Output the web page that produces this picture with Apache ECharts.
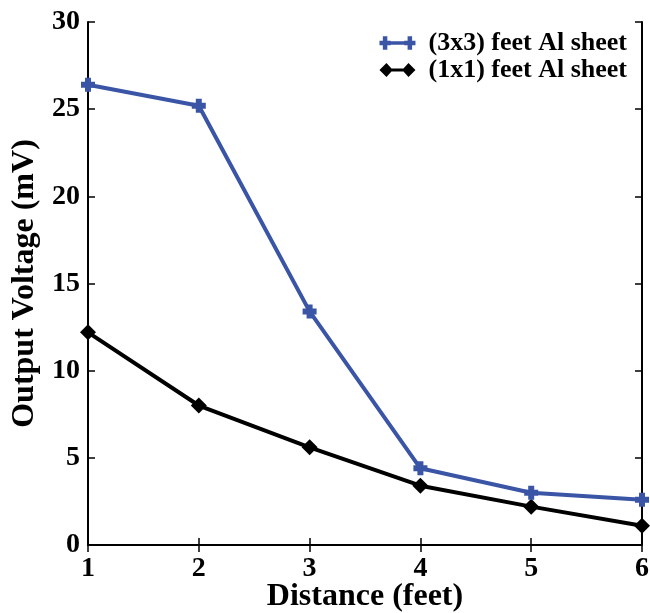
<!DOCTYPE html>
<html>
<head>
<meta charset="utf-8">
<script src="https://cdn.jsdelivr.net/npm/echarts@6/dist/echarts.min.js"></script>
<style>html,body{margin:0;padding:0;background:#fff}#c{width:650px;height:613px}</style>
</head>
<body>
<div id="c"></div>
<script>
var distances = [1, 2, 3, 4, 5, 6];
var sheet3x3 = [26.4, 25.2, 13.4, 4.4, 3.0, 2.6];
var sheet1x1 = [12.2, 8.0, 5.6, 3.4, 2.2, 1.1];
var seriesNames = ['(3x3) feet Al sheet', '(1x1) feet Al sheet'];
var xTicks = [1, 2, 3, 4, 5, 6];
var yTicks = [0, 5, 10, 15, 20, 25, 30];

var BLUE = '#3a55a6';
var FONT = '"Liberation Serif", "Times New Roman", serif';
var plusPath = 'path://M4,0H10V4H14V10H10V14H4V10H0V4H4Z';
var legendBlue = 'path://M5,1H9V5H12V9H9V13H5V9H2V5H5Z M27,1H31V5H34V9H31V13H27V9H24V5H27Z M11,5.5H25V8.5H11Z';
var legendBlack = 'path://M0,7L7,0L12,5.5H24L29,0L36,7L29,14L24,8.5H12L7,14Z';

function pairs(vals) { return distances.map(function (d, i) { return [d, vals[i]]; }); }

var chart = echarts.init(document.getElementById('c'), null, {renderer: 'canvas'});
var axisText = {color: '#000', fontFamily: FONT, fontWeight: 'bold', fontSize: 28};
var line = {show: true, lineStyle: {color: '#000', width: 2}};
var tick = {show: true, inside: true, length: 7, lineStyle: {color: '#000', width: 1.5}};
chart.setOption({
  animation: false,
  backgroundColor: '#fff',
  grid: {left: 88, right: 8, top: 22, bottom: 68, containLabel: false, outerBoundsMode: 'none'},
  legend: {
    right: 18, top: 25, orient: 'vertical', itemGap: 1, itemWidth: 36, itemHeight: 14,
    textStyle: {color: '#000', fontFamily: FONT, fontWeight: 'bold', fontSize: 26, padding: [0, 0, 0, 8]},
    data: [
      {name: seriesNames[0], icon: legendBlue, itemStyle: {color: BLUE}},
      {name: seriesNames[1], icon: legendBlack, itemStyle: {color: '#000'}}
    ]
  },
  xAxis: [{
    type: 'value', min: 1, max: 6, interval: 1, position: 'bottom',
    axisLine: line, splitLine: {show: false}, axisTick: tick,
    axisLabel: Object.assign({margin: 10, customValues: xTicks}, axisText),
    name: 'Distance (feet)', nameLocation: 'middle', nameGap: 36, nameMoveOverlap: false,
    nameTextStyle: {color: '#000', fontFamily: FONT, fontWeight: 'bold', fontSize: 32}
  }, {
    type: 'value', min: 1, max: 6, interval: 1, position: 'top',
    axisLine: line, splitLine: {show: false}, axisTick: tick,
    axisLabel: {show: false}
  }],
  yAxis: [{
    type: 'value', min: 0, max: 30, interval: 5, position: 'left',
    axisLine: line, splitLine: {show: false}, axisTick: tick,
    axisLabel: Object.assign({margin: 8}, axisText),
    name: 'Output Voltage (mV)', nameLocation: 'middle', nameGap: 47, nameMoveOverlap: false,
    nameTextStyle: {color: '#000', fontFamily: FONT, fontWeight: 'bold', fontSize: 32}
  }, {
    type: 'value', min: 0, max: 30, interval: 5, position: 'right',
    axisLine: line, splitLine: {show: false}, axisTick: tick,
    axisLabel: {show: false}
  }],
  series: [{
    name: seriesNames[0], type: 'line', data: pairs(sheet3x3),
    symbol: plusPath, symbolSize: 14, showAllSymbol: true,
    lineStyle: {color: BLUE, width: 4}, itemStyle: {color: BLUE}, z: 3
  }, {
    name: seriesNames[1], type: 'line', data: pairs(sheet1x1),
    symbol: 'diamond', symbolSize: 16, showAllSymbol: true,
    lineStyle: {color: '#000', width: 4}, itemStyle: {color: '#000'}, z: 2
  }]
});
</script>
</body>
</html>
